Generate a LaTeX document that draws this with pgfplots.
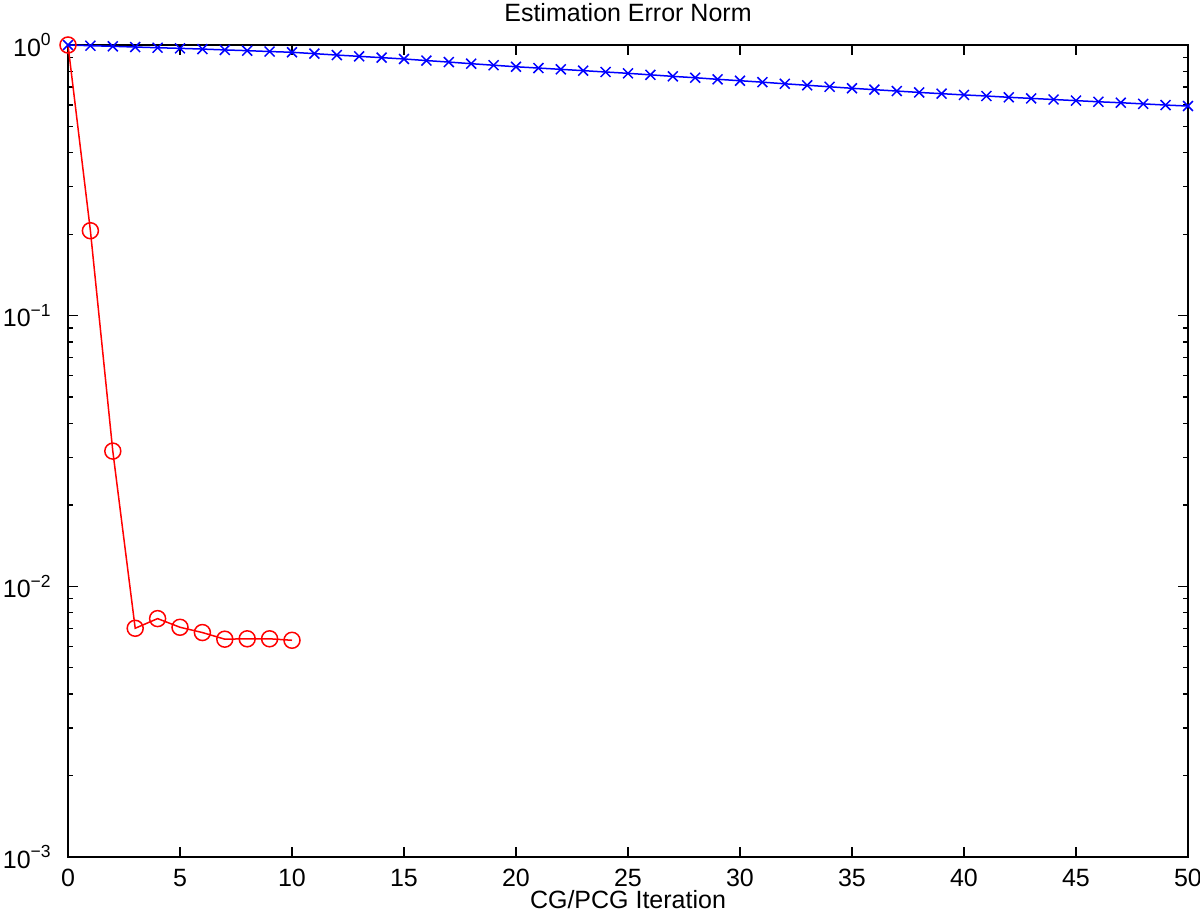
\documentclass[border=0pt]{standalone}
\usepackage{fontspec}
\setmainfont{Liberation Sans}
\usepackage{pgfplots}
\pgfplotsset{compat=1.18}
\begin{document}
\begin{tikzpicture}
\begin{axis}[
  at={(0,0)}, anchor=south west,
  scale only axis, width=336pt, height=243.6pt,
  font=\fontsize{7.5pt}{9pt}\selectfont,
  ymode=log, log basis y=10,
  xmin=0, xmax=50, ymin=1e-3, ymax=1,
  xtick={0,5,...,50},
  ytick={1e-3,1e-2,1e-1,1},
  yticklabels={10\textsuperscript{−3},10\textsuperscript{−2},10\textsuperscript{−1},10\textsuperscript{0}},
  minor ytick={2e-3,3e-3,4e-3,5e-3,6e-3,7e-3,8e-3,9e-3,2e-2,3e-2,4e-2,5e-2,6e-2,7e-2,8e-2,9e-2,2e-1,3e-1,4e-1,5e-1,6e-1,7e-1,8e-1,9e-1},
  /pgf/number format/assume math mode=true,
  tick align=inside, major tick length=3pt, minor tick length=1.5pt,
  xtick pos=both, ytick pos=both,
  axis line style={line width=0.5pt},
  every tick/.style={black, line width=0.4pt},
  title={Estimation Error Norm},
  title style={anchor=base, inner sep=0pt, yshift=1.2pt},
  xlabel={CG/PCG Iteration},
  xlabel style={at={(0.5,0)}, anchor=base, inner sep=0pt, yshift=-15.3pt},
  xticklabel style={inner sep=0pt, yshift=-3.5pt},
  yticklabel style={inner sep=0pt, xshift=-4.5pt},
  clip=false,
]
\addplot[color=blue, line width=0.45pt, mark=x, mark size=2.1pt, mark options={line width=0.45pt}] coordinates {
(0,1.000) (1,0.994) (2,0.989) (3,0.983) (4,0.977) (5,0.972) (6,0.966) (7,0.959) (8,0.953) (9,0.946)
(10,0.940) (11,0.929) (12,0.918) (13,0.908) (14,0.898) (15,0.888) (16,0.876) (17,0.865) (18,0.853) (19,0.842)
(20,0.831) (21,0.822) (22,0.813) (23,0.804) (24,0.795) (25,0.786) (26,0.776) (27,0.766) (28,0.757) (29,0.747)
(30,0.738) (31,0.729) (32,0.719) (33,0.710) (34,0.701) (35,0.692) (36,0.684) (37,0.676) (38,0.668) (39,0.661)
(40,0.654) (41,0.648) (42,0.641) (43,0.635) (44,0.629) (45,0.623) (46,0.617) (47,0.612) (48,0.606) (49,0.600)
(50,0.595)
};
\addplot[color=red, line width=0.45pt, mark=o, mark size=2.4pt, mark options={line width=0.45pt}] coordinates {
(0,1.0) (1,0.206) (2,0.0316) (3,0.0070) (4,0.0076) (5,0.00706) (6,0.00675) (7,0.00638) (8,0.0064) (9,0.0064) (10,0.00632)
};
\end{axis}
\pgfresetboundingbox
\useasboundingbox (-20.4pt,-16.2pt) rectangle (339.6pt,257.1pt);
\end{tikzpicture}
\end{document}
